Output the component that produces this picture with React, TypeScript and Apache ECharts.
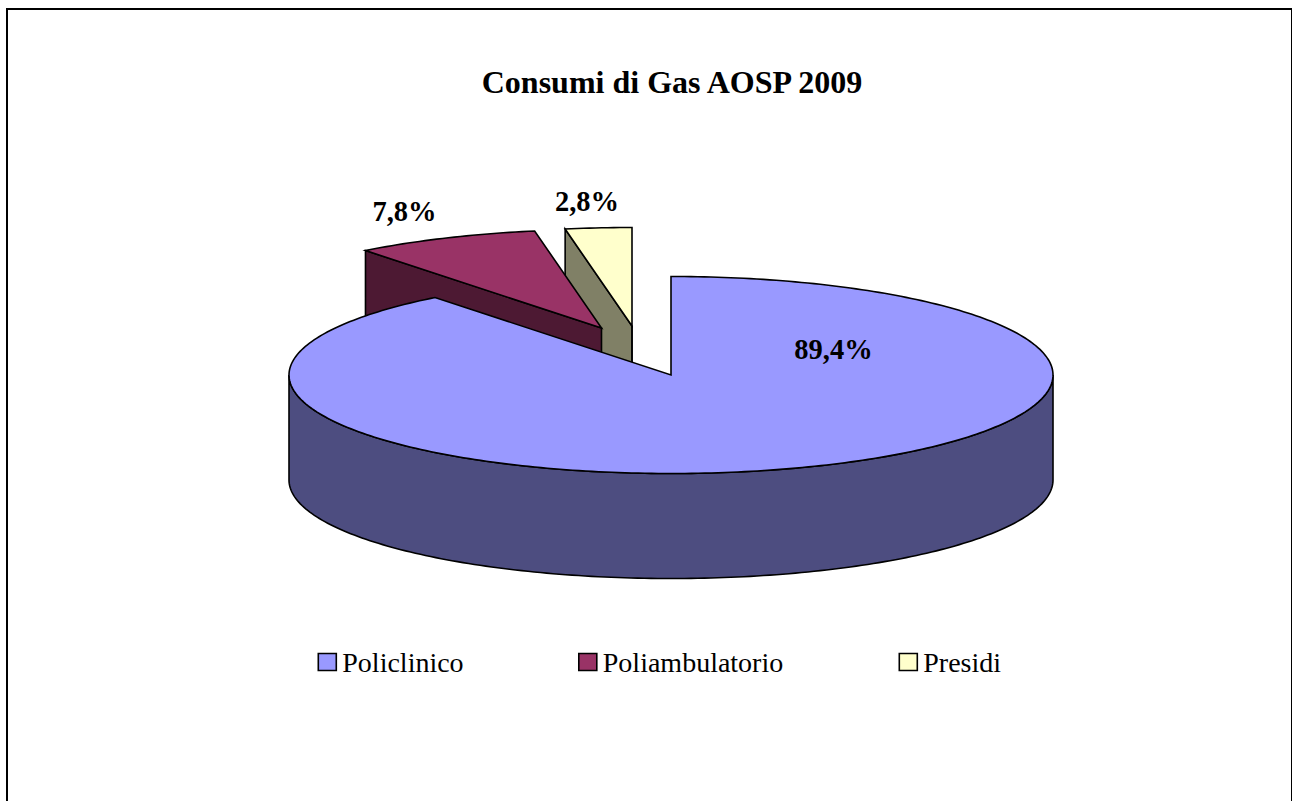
import React, { useEffect, useRef } from "react";
import * as echarts from "echarts";

const titleText = "Consumi di Gas AOSP 2009";
const categories = ["Policlinico", "Poliambulatorio", "Presidi"];
const shareValues = [89.4, 7.8, 2.8];
const shareLabels = ["89,4%", "7,8%", "2,8%"];

const topColors = ["#9999FF", "#993366", "#FFFFCC"];
const sideColors = ["#4D4D80", "#4D1933", "#808066"];
const apexes = [[671, 375], [601.5, 328], [632, 326]];
const labelSpots = [[833.5, 349], [404.5, 211], [587, 201]];
const legendLefts = [317.5, 578, 898.5];

const RX = 382;
const RY = 98.5;
const DEPTH = 105;
const FONT = '"Liberation Serif", "Times New Roman", serif';

const total = shareValues.reduce((a, b) => a + b, 0);
const project = (apex: number[], deg: number, drop = 0) => {
  const t = (deg * Math.PI) / 180;
  return [apex[0] + RX * Math.sin(t), apex[1] - RY * Math.cos(t) + drop];
};
const arc = (apex: number[], from: number, to: number, drop = 0) => {
  const pts: number[][] = [];
  const n = Math.max(2, Math.ceil(Math.abs(to - from)));
  for (let i = 0; i <= n; i++) pts.push(project(apex, from + ((to - from) * i) / n, drop));
  return pts;
};
const stroke = { stroke: "#000", lineWidth: 1.6, lineJoin: "miter" as const };

const renderSlice = (index: number) => (_params: any, api: any) => {
  const value = api.value(0) as number;
  const before = shareValues.slice(0, index).reduce((a, b) => a + b, 0);
  const start = (before / total) * 360;
  const end = ((before + value) / total) * 360;
  const apex = apexes[index];
  const children: any[] = [];
  const poly = (points: number[][], fill: string) =>
    children.push({ type: "polygon", shape: { points }, style: { fill, ...stroke } });

  // Visible outer wall (front half of the rim only)
  const wallFrom = Math.max(start, 90);
  const wallTo = Math.min(end, 270);
  if (wallTo > wallFrom) {
    poly([...arc(apex, wallFrom, wallTo), ...arc(apex, wallTo, wallFrom, DEPTH)], sideColors[index]);
  }
  // Visible cut face: the one at the slice's starting angle, for the exploded slices
  if (index > 0) {
    const rim = project(apex, start);
    poly([apex, rim, [rim[0], rim[1] + DEPTH], [apex[0], apex[1] + DEPTH]], sideColors[index]);
    const far = project(apex, end);
    if (index === 2) {
      children.push({
        type: "line",
        shape: { x1: far[0], y1: apex[1], x2: far[0], y2: apex[1] + DEPTH },
        style: stroke,
      });
    }
  }
  // Top face
  poly([apex, ...arc(apex, start, end)], topColors[index]);
  children.push({
    type: "text",
    z2: 50,
    style: {
      x: labelSpots[index][0],
      y: labelSpots[index][1],
      text: shareLabels[index],
      fill: "#000",
      font: `bold 28.5px ${FONT}`,
      align: "center",
      verticalAlign: "middle",
    },
  });
  return { type: "group", children };
};

export default function App() {
  const ref = useRef<HTMLDivElement>(null);
  useEffect(() => {
    document.body.style.margin = "0";
    const chart = echarts.init(ref.current!, undefined, { renderer: "svg" });
    chart.setOption({
      animation: false,
      backgroundColor: "#fff",
      title: {
        text: titleText,
        left: 667,
        top: 61,
        textAlign: "center",
        textStyle: { fontFamily: FONT, fontSize: 32, fontWeight: "bold", color: "#000" },
      },
      legend: categories.map((name, i) => ({
        data: [{ name, icon: "rect", itemStyle: { color: topColors[i], borderColor: "#000", borderWidth: 1.6 } }],
        left: legendLefts[i],
        top: 648,
        itemWidth: 18,
        itemHeight: 17,
        itemGap: 0,
        padding: 0,
        selectedMode: false,
        textStyle: { fontFamily: FONT, fontSize: 28, color: "#000", padding: [0, 0, 0, 1] },
      })),
      graphic: [
        {
          type: "polyline",
          shape: { points: [[7, 801], [7, 9], [1292, 9], [1292, 801]] },
          style: { stroke: "#000", lineWidth: 2, fill: "none" },
          silent: true,
        },
      ],
      series: categories.map((name, i) => ({
        type: "custom",
        name,
        coordinateSystem: "none",
        z: 5 - i,
        silent: true,
        itemStyle: { color: topColors[i] },
        data: [[shareValues[i]]],
        renderItem: renderSlice(i),
      })),
    });
    return () => chart.dispose();
  }, []);
  return <div ref={ref} style={{ position: "absolute", left: 0, top: 0, width: 1292, height: 801 }} />;
}
